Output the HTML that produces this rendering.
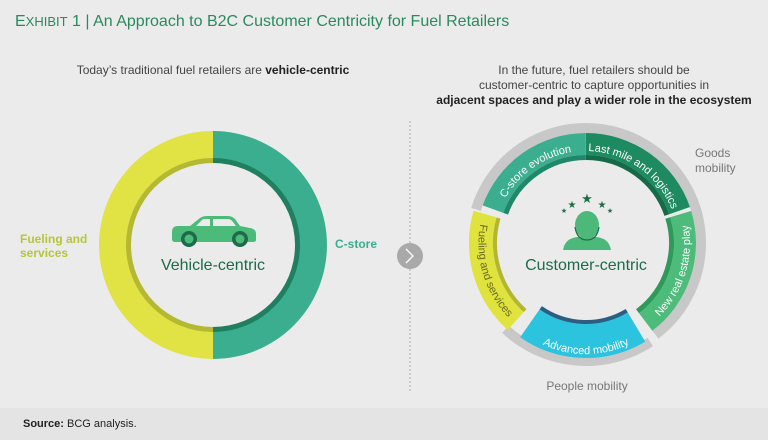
<!DOCTYPE html>
<html><head><meta charset="utf-8"><style>
html,body{margin:0;padding:0;background:#ebebeb;}
svg{display:block;font-family:"Liberation Sans",sans-serif;}
</style></head><body>
<svg width="768" height="440" viewBox="0 0 768 440" xmlns="http://www.w3.org/2000/svg">
<rect width="768" height="440" fill="#ebebeb"/>
<rect y="408" width="768" height="32" fill="#e4e4e4"/>
<text x="15" y="26" font-size="16" fill="#2a8a5e"><tspan>E</tspan><tspan font-size="13">XHIBIT</tspan> 1 | An Approach to B2C Customer Centricity for Fuel Retailers</text>
<text x="213" y="74" font-size="12" fill="#444" text-anchor="middle">Today’s traditional fuel retailers are <tspan font-weight="bold" fill="#222">vehicle-centric</tspan></text>
<g font-size="12" fill="#444" text-anchor="middle">
<text x="594" y="74">In the future, fuel retailers should be</text>
<text x="594" y="89">customer-centric to capture opportunities in</text>
<text x="594" y="104" font-weight="bold" fill="#222">adjacent spaces and play a wider role in the ecosystem</text>
</g>
<!-- left donut -->
<path d="M213 131 A114 114 0 0 0 213 359 Z" fill="#e0e343"/>
<path d="M213 131 A114 114 0 0 1 213 359 Z" fill="#3aae8e"/>
<path d="M213 158 A87 87 0 0 0 213 332 Z" fill="#b4b833"/>
<path d="M213 158 A87 87 0 0 1 213 332 Z" fill="#1f7f5e"/>
<circle cx="213" cy="245" r="82" fill="#ebebeb"/>
<!-- car -->
<g>
<path d="M172 232 Q172 226 178 226 L190 226 L200 218 Q203 216 207 216 L228 216 Q232 216 235 219 L240 226 L250 228 Q256 229 256 234 L256 240 Q256 242 253 242 L175 242 Q172 242 172 239 Z" fill="#4cbb7a"/>
<path d="M203 219 L210 219 L210 226 L196 226 Z M213 219 L228 219 Q231 219 233 222 L236 226 L213 226 Z" fill="#ebebeb"/>
<circle cx="189" cy="239" r="8" fill="#1d6b4a"/><circle cx="189" cy="239" r="4.5" fill="#4cbb7a"/>
<circle cx="240" cy="239" r="8" fill="#1d6b4a"/><circle cx="240" cy="239" r="4.5" fill="#4cbb7a"/>
</g>
<text x="213" y="270" font-size="16" fill="#1d6b4a" text-anchor="middle">Vehicle-centric</text>
<text x="20" y="243" font-size="12" font-weight="bold" fill="#b8c53a">Fueling and</text>
<text x="20" y="257" font-size="12" font-weight="bold" fill="#b8c53a">services</text>
<text x="335" y="248" font-size="12" font-weight="bold" fill="#3aae8e">C-store</text>
<!-- divider -->
<line x1="410" y1="121" x2="410" y2="392" stroke="#aaa" stroke-width="1" stroke-dasharray="2 2"/>
<circle cx="410" cy="256" r="13" fill="#a9a9a9"/>
<path d="M406 249 L413 256 L406 263" fill="none" stroke="#fff" stroke-width="1.3"/>
<!-- right donut -->
<g fill="none">
<circle transform="rotate(197 586 243)" cx="586" cy="243" r="115" stroke="#c8c8c8" stroke-width="10" pathLength="360" stroke-dasharray="216 400"/>
<circle transform="rotate(57 586 243)" cx="586" cy="243" r="118" stroke="#c8c8c8" stroke-width="10" pathLength="360" stroke-dasharray="76 400"/>
<circle transform="rotate(200 586 243)" cx="586" cy="243" r="99" stroke="#3aae8e" stroke-width="22" pathLength="360" stroke-dasharray="70 400"/>
<circle transform="rotate(200 586 243)" cx="586" cy="243" r="85.5" stroke="#21876a" stroke-width="5" pathLength="360" stroke-dasharray="70 400"/>
<circle transform="rotate(-90 586 243)" cx="586" cy="243" r="99" stroke="#1e8a5f" stroke-width="22" pathLength="360" stroke-dasharray="71 400"/>
<circle transform="rotate(-90 586 243)" cx="586" cy="243" r="85.5" stroke="#156b47" stroke-width="5" pathLength="360" stroke-dasharray="71 400"/>
<circle transform="rotate(-17 586 243)" cx="586" cy="243" r="99" stroke="#4dbb7a" stroke-width="22" pathLength="360" stroke-dasharray="70 400"/>
<circle transform="rotate(-17 586 243)" cx="586" cy="243" r="85.5" stroke="#2e9a5a" stroke-width="5" pathLength="360" stroke-dasharray="70 400"/>
<circle transform="rotate(59 586 243)" cx="586" cy="243" r="97" stroke="#2cc3df" stroke-width="36" pathLength="360" stroke-dasharray="66 400"/>
<circle transform="rotate(59 586 243)" cx="586" cy="243" r="79" stroke="#2d5d80" stroke-width="4" pathLength="360" stroke-dasharray="66 400"/>
<circle transform="rotate(132 586 243)" cx="586" cy="243" r="105" stroke="#e0e23e" stroke-width="24" pathLength="360" stroke-dasharray="64 400"/>
<circle transform="rotate(132 586 243)" cx="586" cy="243" r="91" stroke="#b3b62e" stroke-width="4" pathLength="360" stroke-dasharray="64 400"/>
</g>
<defs>
<path id="p1" d="M499.5 211.5 A92 92 0 0 1 586 151"/>
<path id="p2" d="M586 151 A92 92 0 0 1 672.5 211.5"/>
<path id="p3" d="M648.6 326.1 A104 104 0 0 0 684.9 210.9"/>
<path id="p4" d="M519 329 A102 102 0 0 0 653 329"/>
<path id="p5" d="M482 216.1 A107 107 0 0 0 514 323"/>
</defs>
<g font-size="11" fill="#fff">
<text><textPath href="#p1" startOffset="50%" text-anchor="middle">C-store evolution</textPath></text>
<text><textPath href="#p2" startOffset="50%" text-anchor="middle">Last mile and logistics</textPath></text>
<text><textPath href="#p3" startOffset="50%" text-anchor="middle">New real estate play</textPath></text>
<text><textPath href="#p4" startOffset="50%" text-anchor="middle">Advanced mobility</textPath></text>
<text fill="#6a6a20"><textPath href="#p5" startOffset="50%" text-anchor="middle">Fueling and services</textPath></text>
</g>
<!-- person icon -->
<g fill="#1d6e48">
<text x="587" y="203" font-size="13" text-anchor="middle">★</text>
<text x="572" y="208" font-size="10" text-anchor="middle">★</text>
<text x="602" y="208" font-size="10" text-anchor="middle">★</text>
<text x="564" y="213" font-size="7" text-anchor="middle">★</text>
<text x="610" y="213" font-size="7" text-anchor="middle">★</text>
</g>
<path d="M563 250 Q565 238 578 237 L596 237 Q609 238 611 250 Z" fill="#4cb97a"/>
<ellipse cx="587" cy="225" rx="12" ry="14" fill="#4cb97a"/>
<path d="M575 227 Q577 240 587 240 Q597 240 599 227" fill="none" stroke="#1d6e48" stroke-width="1.2"/>
<text x="586" y="270" font-size="16" fill="#1d6b4a" text-anchor="middle">Customer-centric</text>
<text x="695" y="157" font-size="12" fill="#777">Goods</text>
<text x="695" y="172" font-size="12" fill="#777">mobility</text>
<text x="587" y="390" font-size="12" fill="#777" text-anchor="middle">People mobility</text>
<text x="23" y="427" font-size="11" fill="#222"><tspan font-weight="bold">Source:</tspan> BCG analysis.</text>
</svg>
</body></html>
